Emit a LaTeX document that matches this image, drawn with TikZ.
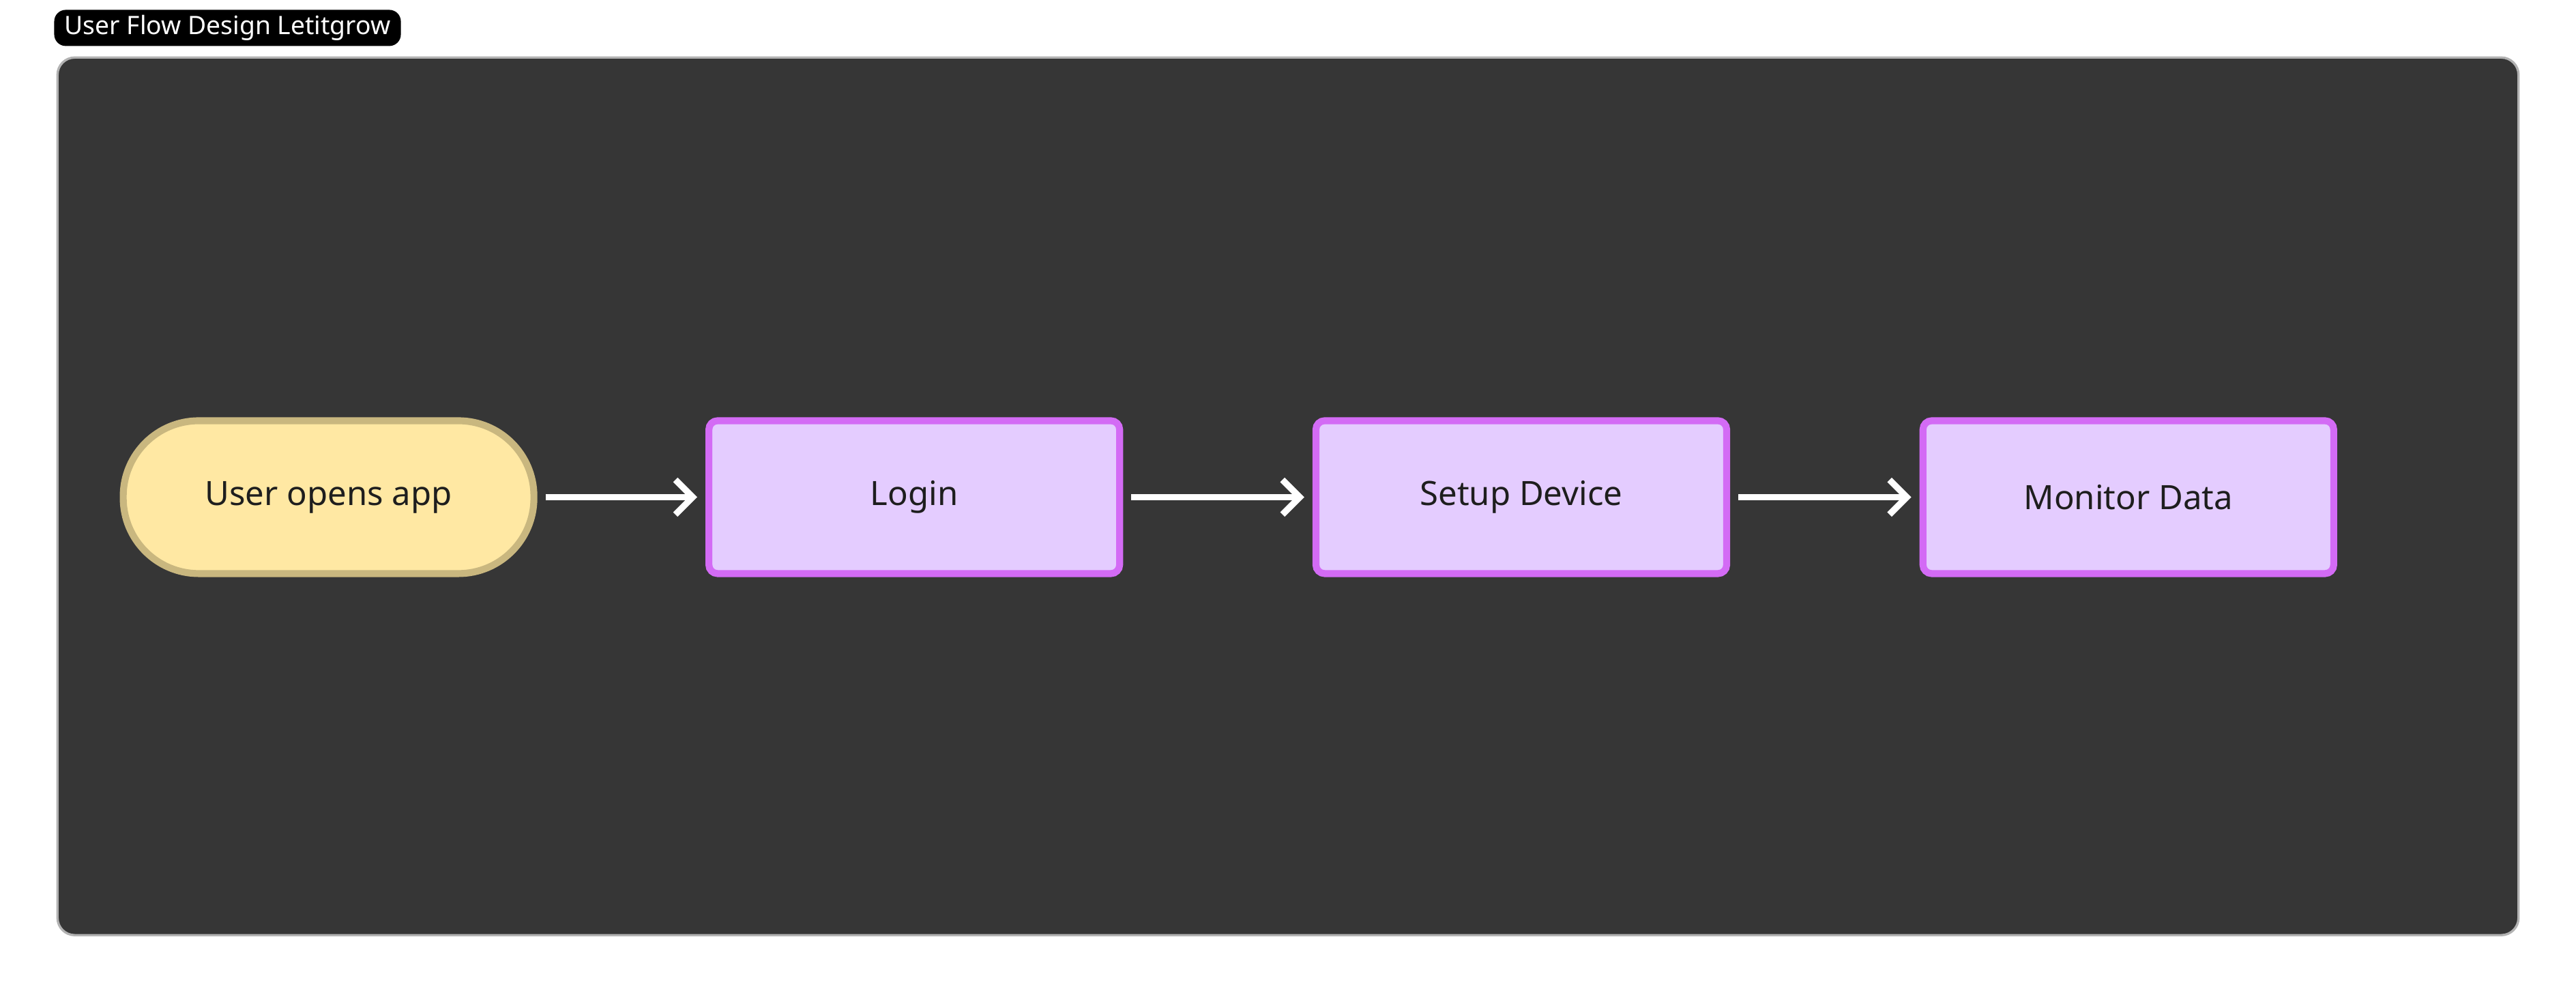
\documentclass[tikz,border=0pt]{standalone}
\usepackage{fontspec}
\setmainfont{Noto Sans}
\usetikzlibrary{positioning,arrows.meta}
\definecolor{bgdark}{HTML}{363636}
\definecolor{pillfill}{HTML}{FFE8A3}
\definecolor{pilldraw}{HTML}{C9B77F}
\definecolor{boxfill}{HTML}{E4CCFF}
\definecolor{boxdraw}{HTML}{D36BF5}
\definecolor{txt}{HTML}{1E1E1E}
\tikzset{
  flowbox/.style={draw=boxdraw, fill=boxfill, line width=1.2pt, rounded corners=1.5pt,
    minimum width=2.5cm, minimum height=0.93cm, text=txt, font=\fontsize{5.8}{7}\selectfont},
  startbox/.style={flowbox, draw=pilldraw, fill=pillfill, rounded corners=0.46cm},
  flow/.style={draw=white, line width=1.1pt, -{Straight Barb[length=3pt,width=6pt]}}
}
\begin{document}
\begin{tikzpicture}
\useasboundingbox (0,0) rectangle (15.68,-6.04);
% frame and title tag
\draw[fill=bgdark, draw=gray!60, rounded corners=3pt] (0.35,-0.35) rectangle (15.33,-5.69);
\node[fill=black, text=white, rounded corners=2pt, inner sep=0pt, minimum width=2.11cm,
  minimum height=0.22cm, font=\fontsize{4.4}{5}\selectfont] (tag) at (1.385,-0.17) {User Flow Design Letitgrow};
% steps
\node[startbox] (open) at (2.0,-3.025) {User opens app};
\node[flowbox] (login) at (5.565,-3.025) {Login};
\node[flowbox] (setup) at (9.26,-3.025) {Setup Device};
\node[flowbox] (monitor) at (12.955,-3.025) {Monitor Data};
% connectors
\draw[flow] ([xshift=0.05cm]open.east) -- ([xshift=-0.05cm]login.west);
\draw[flow] ([xshift=0.05cm]login.east) -- ([xshift=-0.05cm]setup.west);
\draw[flow] ([xshift=0.05cm]setup.east) -- ([xshift=-0.05cm]monitor.west);
\end{tikzpicture}
\end{document}
